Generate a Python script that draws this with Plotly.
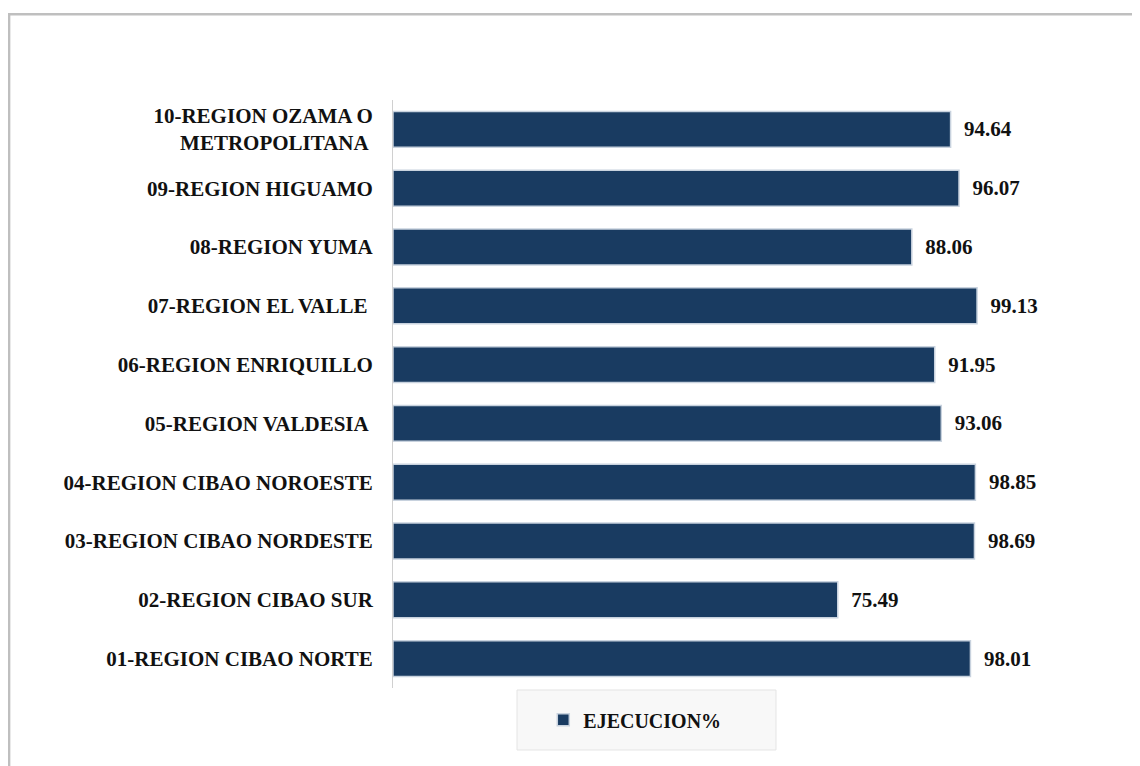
import plotly.graph_objects as go

regions = [
    "01-REGION CIBAO NORTE",
    "02-REGION CIBAO SUR",
    "03-REGION CIBAO NORDESTE",
    "04-REGION CIBAO NOROESTE",
    "05-REGION VALDESIA ",
    "06-REGION ENRIQUILLO",
    "07-REGION EL VALLE ",
    "08-REGION YUMA",
    "09-REGION HIGUAMO",
    "10-REGION OZAMA O<br>METROPOLITANA ",
]
ejecucion = [98.01, 75.49, 98.69, 98.85, 93.06, 91.95, 99.13, 88.06, 96.07, 94.64]

BAR_COLOR = "#193B61"
FONT = "Liberation Serif, Times New Roman, serif"

fig = go.Figure(go.Bar(
    x=ejecucion,
    y=regions,
    orientation="h",
    name="EJECUCION%",
    marker=dict(color=BAR_COLOR, line=dict(color="#C8D2DE", width=1.5)),
    text=[f"\u00a0\u00a0{v:.2f}" for v in ejecucion],
    textposition="outside",
    textfont=dict(family=FONT, size=21, color="#111111", weight="bold"),
    cliponaxis=False,
    showlegend=True,
))

# page body has an 8px margin, so the figure is drawn 8px smaller and shifted
fig.update_layout(
    width=1132,
    height=758,
    paper_bgcolor="white",
    plot_bgcolor="white",
    font=dict(family=FONT, color="#111111"),
    margin=dict(l=385, r=40, t=92, b=78),
    bargap=0.39,
    xaxis=dict(range=[0, 120], visible=False, showgrid=False, zeroline=False),
    yaxis=dict(
        showline=True, linecolor="#D0D0D0", linewidth=1,
        showgrid=False, ticks="", ticklabelstandoff=15,
        tickfont=dict(family=FONT, size=21, color="#111111", weight="bold"),
    ),
    legend=dict(
        x=0.342, y=-0.054, xanchor="center", yanchor="middle",
        orientation="h", bgcolor="rgba(0,0,0,0)",
        font=dict(family=FONT, size=20, color="#111111", weight="bold"),
    ),
    shapes=[
        # outer chart border
        dict(type="rect", xref="paper", yref="paper",
             x0=-0.543, x1=1.07, y0=-0.15, y1=1.146,
             line=dict(color="#BFBFBF", width=2.5), layer="below"),
        # legend box
        dict(type="rect", xref="paper", yref="paper",
             x0=0.1754, x1=0.5417, y0=-0.1054, y1=-0.0034,
             fillcolor="#F8F8F8", line=dict(color="#E4E4E4", width=1), layer="below"),
    ],
    annotations=[
        dict(text="(EJECUCION POR REGION, %)",
             xref="paper", yref="paper", x=0.281, y=1.163,
             xanchor="center", yanchor="bottom", showarrow=False,
             font=dict(family=FONT, size=20, color="#111111", weight="bold")),
    ],
)

fig.write_html("out.html")
